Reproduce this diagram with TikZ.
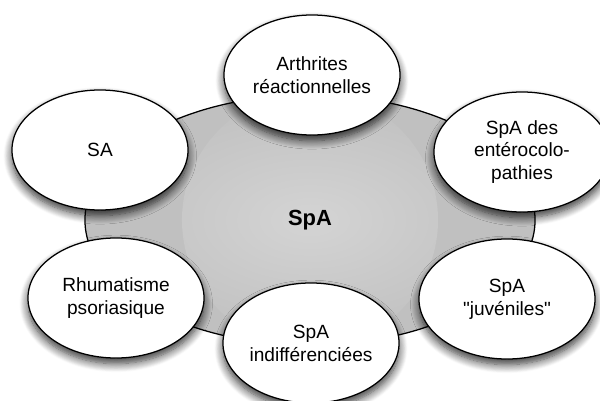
\documentclass[tikz,border=0pt]{standalone}
\usepackage{fontspec}
\setmainfont{Liberation Sans}[Ligatures=TeXOff]
\usetikzlibrary{shapes.geometric,shadows.blur}
\definecolor{hubgray}{HTML}{C0C0C0}
\definecolor{hublight}{HTML}{D4D4D4}
\tikzset{
  hub/.style={ellipse,draw,line width=0.9pt,fill=hubgray,inner sep=0pt,
    minimum width=11.25cm,minimum height=6.25cm,
    path picture={\shade[inner color=hublight,outer color=hubgray]
      (path picture bounding box.center) circle (3.2cm);}},
  sat/.style={ellipse,draw,line width=0.9pt,fill=white,align=center,inner sep=0pt,
    minimum width=4.4cm,minimum height=3cm,
    blur shadow={shadow xshift=0pt,shadow yshift=-4pt,shadow blur radius=6pt,
      shadow blur steps=10,shadow opacity=80}}
}
\begin{document}
\begin{tikzpicture}[x=0.025cm,y=-0.025cm,font=\fontsize{13.6}{16.3}\selectfont]
  \useasboundingbox (0,0) rectangle (600,401);
  \node[hub] (spa) at (310,220) {\fontsize{15.6}{18}\selectfont\bfseries SpA};
  \foreach \nm/\x/\y/\txt in {ar/312/75/{Arthrites\\réactionnelles},
      sa/100/150/{SA},ent/522/152/{SpA des\\entérocolo-\\pathies},
      rh/116/298/{Rhumatisme\\psoriasique},juv/507/299/{SpA\\"juvéniles"},
      ind/311/343/{SpA\\indifférenciées}}{
    \node[sat] (\nm) at (\x,\y) {\txt};
  }
\end{tikzpicture}
\end{document}
